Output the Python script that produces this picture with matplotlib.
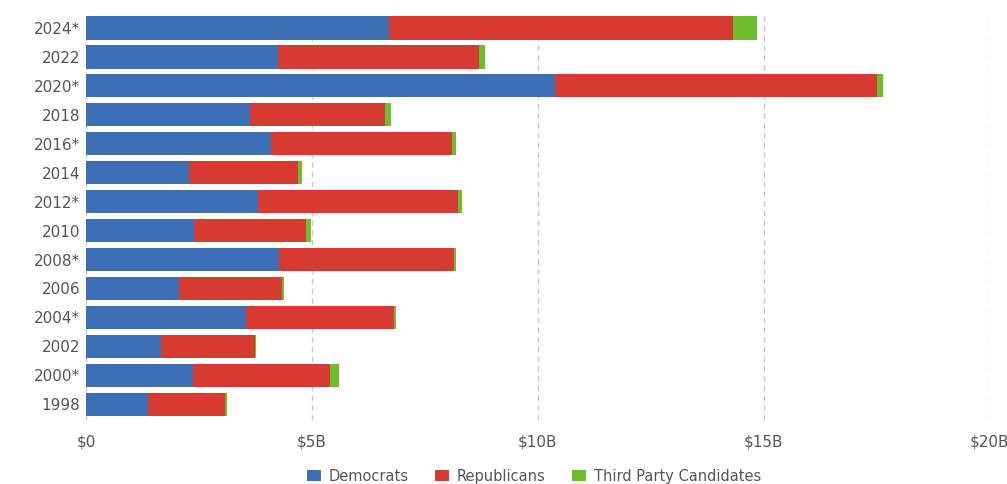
"""
Stacked horizontal bars: election spending by party, 1998-2024.
"""
import matplotlib.pyplot as plt
from matplotlib.patches import Patch
from matplotlib.ticker import FuncFormatter

years = ["2024*", "2022", "2020*", "2018", "2016*", "2014", "2012*",
         "2010", "2008*", "2006", "2004*", "2002", "2000*", "1998"]
# billions of dollars
democrats = [6.70, 4.25, 10.38, 3.63, 4.09, 2.29, 3.80,
             2.39, 4.28, 2.06, 3.53, 1.67, 2.36, 1.37]
republicans = [7.61, 4.44, 7.12, 2.98, 4.01, 2.39, 4.43,
               2.48, 3.86, 2.27, 3.28, 2.06, 3.04, 1.71]
third_party = [0.53, 0.13, 0.13, 0.13, 0.09, 0.10, 0.09,
               0.11, 0.05, 0.05, 0.06, 0.04, 0.19, 0.03]

colors = {"Democrats": "#3d6fb6", "Republicans": "#d73a31",
          "Third Party Candidates": "#6cbf2a"}


def money(v, pos):
    return "$0" if v == 0 else f"${v:g}B"


def main():
    fig = plt.figure(figsize=(10.07, 4.84), dpi=100)
    ax = fig.add_axes([0.0854, 0.132, 0.8976, 0.843])

    pos = list(range(len(years)))
    left = [0.0] * len(years)
    for name, vals in [("Democrats", democrats), ("Republicans", republicans),
                       ("Third Party Candidates", third_party)]:
        ax.barh(pos, vals, left=left, height=0.8, color=colors[name],
                linewidth=0, zorder=3)
        left = [a + b for a, b in zip(left, vals)]

    ax.set_xlim(0, 20)
    ax.set_ylim(len(years) - 0.45, -0.55)
    ax.set_yticks(pos)
    ax.set_yticklabels(years)
    ax.set_xticks([0, 5, 10, 15, 20])
    ax.xaxis.set_major_formatter(FuncFormatter(money))
    ax.tick_params(axis="both", length=0, labelsize=11, colors="#555555")
    ax.tick_params(axis="x", pad=10)
    ax.tick_params(axis="y", pad=4)
    ax.grid(axis="x", color="#c8c8c8", linestyle=(0, (4, 3)), linewidth=1, zorder=0)
    for s in ax.spines.values():
        s.set_visible(False)

    handles = [Patch(facecolor=c, label=n) for n, c in colors.items()]
    fig.legend(handles=handles, loc="center", bbox_to_anchor=(0.53, 0.016),
               ncol=3, frameon=False, fontsize=10.5, handlelength=1.0,
               handleheight=0.8, columnspacing=1.8, handletextpad=0.5,
               labelcolor="#555555")

    fig.savefig("out.png", dpi=100)


if __name__ == "__main__":
    main()
